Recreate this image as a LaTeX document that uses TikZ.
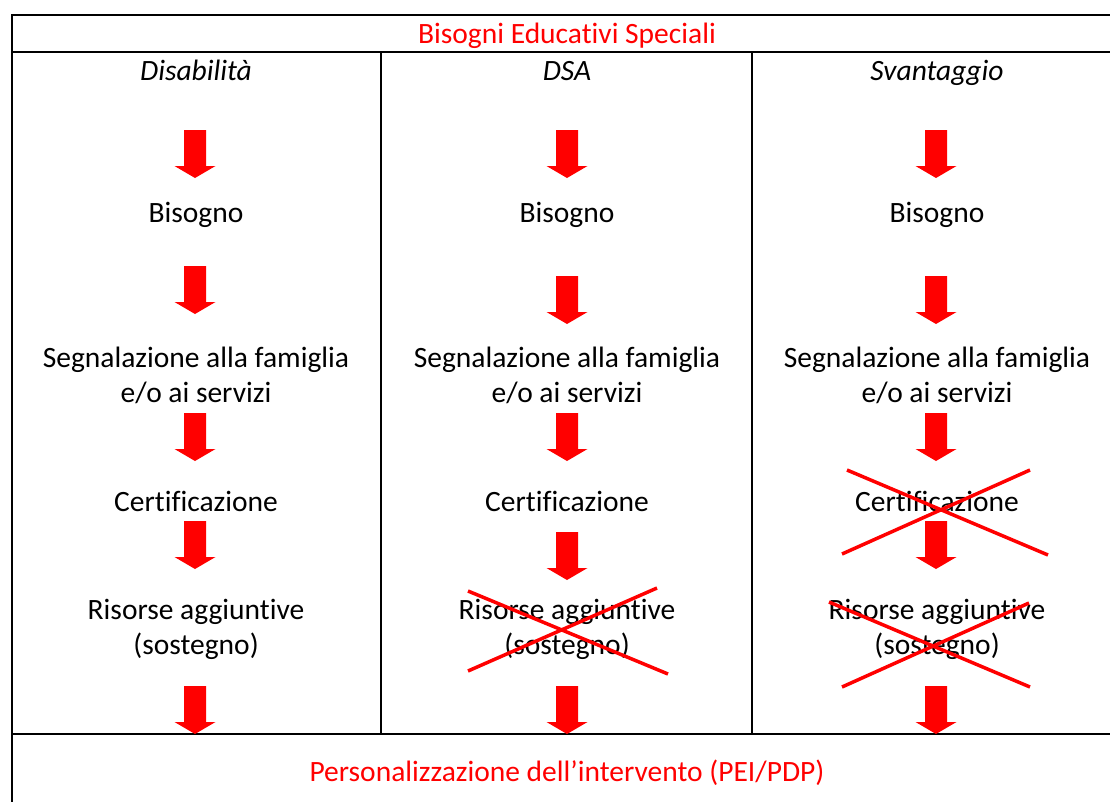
\documentclass[tikz,border=0pt]{standalone}
\usepackage{fontspec}
\setmainfont{Carlito}[Ligatures=NoCommon]
\begin{document}
\begin{tikzpicture}[x=1pt,y=-1pt,
    txt/.style={font=\fontsize{29.5}{35}\selectfont, anchor=base, align=center, inner sep=0pt},
    redtxt/.style={txt, text=red},
    cross/.style={red, line width=3.5pt},
    downarrow/.pic={\fill[red] (-11,0) -- (11,0) -- (11,36) -- (20.5,36) -- (0,48) -- (-20.5,36) -- (-11,36) -- cycle;}]
  \useasboundingbox (0,0) rectangle (1110,801);
  \clip (0,0) rectangle (1110,801);
  % table
  \draw[line width=1.8pt] (12,15) rectangle (1122,860);
  \draw[line width=1.8pt] (12,52) -- (1122,52) (12,734) -- (1122,734);
  \draw[line width=1.5pt] (381,52) -- (381,734) (752,52) -- (752,734);
  \node[redtxt] (bes) at (567,43) {Bisogni Educativi Speciali};
  \node[redtxt] (pers) at (567,781) {Personalizzazione dell’intervento (PEI/PDP)};
  % Disabilita
  \node[txt, font=\fontsize{29.5}{35}\selectfont\itshape] (dis-head) at (196,80) {Disabilità};
  \node[txt] (dis-bis) at (196,222) {Bisogno};
  \node[txt] (dis-seg) at (196,402) {Segnalazione alla famiglia\\e/o ai servizi};
  \node[txt] (dis-cert) at (196,511) {Certificazione};
  \node[txt] (dis-ris) at (196,654) {Risorse aggiuntive\\(sostegno)};
  \pic at (195,130) {downarrow};
  \pic at (195,266) {downarrow};
  \pic at (195,413) {downarrow};
  \pic at (195,521) {downarrow};
  \pic at (195,686) {downarrow};
  % DSA
  \node[txt, font=\fontsize{29.5}{35}\selectfont\itshape] (dsa-head) at (567,80) {DSA};
  \node[txt] (dsa-bis) at (567,222) {Bisogno};
  \node[txt] (dsa-seg) at (567,402) {Segnalazione alla famiglia\\e/o ai servizi};
  \node[txt] (dsa-cert) at (567,511) {Certificazione};
  \node[txt] (dsa-ris) at (567,654) {Risorse aggiuntive\\(sostegno)};
  \pic at (567,130) {downarrow};
  \pic at (567,276) {downarrow};
  \pic at (567,413) {downarrow};
  \pic at (567,532) {downarrow};
  \pic at (567,686) {downarrow};
  \draw[cross] (468,591) -- (668,674) (468,671) -- (657,588);
  % Svantaggio
  \node[txt, font=\fontsize{29.5}{35}\selectfont\itshape] (sva-head) at (937,80) {Svantaggio};
  \node[txt] (sva-bis) at (937,222) {Bisogno};
  \node[txt] (sva-seg) at (937,402) {Segnalazione alla famiglia\\e/o ai servizi};
  \node[txt] (sva-cert) at (937,511) {Certificazione};
  \node[txt] (sva-ris) at (937,654) {Risorse aggiuntive\\(sostegno)};
  \pic at (936,130) {downarrow};
  \pic at (936,276) {downarrow};
  \pic at (936,413) {downarrow};
  \pic at (936,521) {downarrow};
  \pic at (936,686) {downarrow};
  \draw[cross] (847,470) -- (1048,555) (842,554) -- (1030,470);
  \draw[cross] (829,602) -- (1030,687) (842,687) -- (1029,603);
\end{tikzpicture}
\end{document}
